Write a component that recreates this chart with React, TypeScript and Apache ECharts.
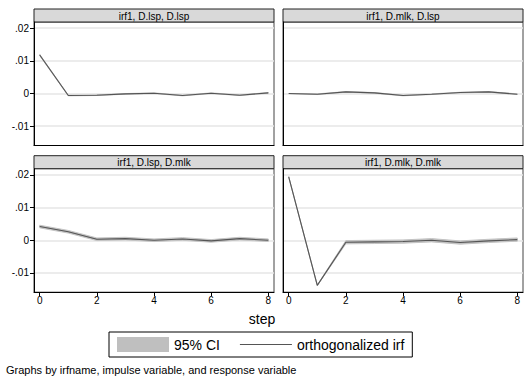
import React, { useEffect, useRef } from "react";
import * as echarts from "echarts";

const steps = [0, 1, 2, 3, 4, 5, 6, 7, 8];
const xTicks = [0, 2, 4, 6, 8];
const yTicks = [-0.01, 0, 0.01, 0.02];
const panelTitles = [
  "irf1, D.lsp, D.lsp",
  "irf1, D.mlk, D.lsp",
  "irf1, D.lsp, D.mlk",
  "irf1, D.mlk, D.mlk",
];

const irfLspLsp = [0.0118, -0.0006, -0.0005, -0.0001, 0.0001, -0.0006, 0.0001, -0.0005, 0.0002];
const loLspLsp = [0.0116, -0.0007, -0.0006, -0.0002, 0.0, -0.0007, 0.0, -0.0006, 0.0001];
const hiLspLsp = [0.012, -0.0005, -0.0004, 0.0, 0.0002, -0.0005, 0.0002, -0.0004, 0.0003];

const irfMlkLsp = [0.0, -0.0002, 0.0005, 0.0002, -0.0006, -0.0002, 0.0003, 0.0005, -0.0002];
const loMlkLsp = [0.0, -0.0003, 0.0004, 0.0001, -0.0007, -0.0003, 0.0002, 0.0004, -0.0003];
const hiMlkLsp = [0.0, -0.0001, 0.0006, 0.0003, -0.0005, -0.0001, 0.0004, 0.0006, -0.0001];

const irfLspMlk = [0.0042, 0.0026, 0.0003, 0.0005, 0.0, 0.0004, -0.0002, 0.0005, 0.0];
const loLspMlk = [0.0038, 0.0022, -0.0001, 0.0001, -0.0004, 0.0, -0.0006, 0.0001, -0.0004];
const hiLspMlk = [0.0046, 0.003, 0.0007, 0.0009, 0.0004, 0.0008, 0.0002, 0.0009, 0.0004];

const irfMlkMlk = [0.0194, -0.0138, -0.0006, -0.0005, -0.0004, 0.0, -0.0007, -0.0002, 0.0002];
const loMlkMlk = [0.0193, -0.0139, -0.0011, -0.001, -0.0009, -0.0005, -0.0012, -0.0007, -0.0003];
const hiMlkMlk = [0.0195, -0.0137, -0.0001, 0.0, 0.0001, 0.0005, -0.0002, 0.0003, 0.0007];

const FONT = '"Liberation Sans", Arial, Helvetica, sans-serif';

const panelData = [
  { irf: irfLspLsp, lo: loLspLsp, hi: hiLspLsp },
  { irf: irfMlkLsp, lo: loMlkLsp, hi: hiMlkLsp },
  { irf: irfLspMlk, lo: loLspMlk, hi: hiLspMlk },
  { irf: irfMlkMlk, lo: loMlkMlk, hi: hiMlkMlk },
];

const colLeft = [34, 283];
const rowHeaderTop = [9, 155.7];
const PANEL_W = 240;
const HEADER_H = 13;
const PLOT_H = 123.5;

function fmtY(v: number) {
  if (Math.abs(v) < 1e-12) return "0";
  return (v < 0 ? "-" : "") + Math.abs(v).toFixed(2).replace(/^0/, "");
}

export default function App() {
  const ref = useRef<HTMLDivElement>(null);
  useEffect(() => {
    if (!ref.current) return;
    const chart = echarts.init(ref.current, null, { renderer: "svg" });
    const grids: any[] = [];
    const xAxes: any[] = [];
    const yAxes: any[] = [];
    const series: any[] = [];
    const graphics: any[] = [];

    panelData.forEach((p, i) => {
      const col = i % 2;
      const row = Math.floor(i / 2);
      const left = colLeft[col];
      const headerTop = rowHeaderTop[row];
      const top = headerTop + HEADER_H;
      grids.push({
        left,
        top,
        width: PANEL_W,
        height: PLOT_H,
        show: true,
        borderColor: "#444",
        borderWidth: 1,
        backgroundColor: "#fff",
        containLabel: false,
        outerBoundsMode: "none",
      });
      const bottomRow = row === 1;
      xAxes.push({
        type: "value",
        gridIndex: i,
        min: -0.2,
        max: 8.2,
        axisLine: { show: true, onZero: false, lineStyle: { color: "#000", width: 1 } },
        axisTick: {
          show: bottomRow,
          customValues: xTicks,
          length: 4,
          lineStyle: { color: "#000" },
        },
        axisLabel: {
          show: bottomRow,
          customValues: xTicks,
          formatter: (v: number) => String(v),
          fontSize: 10,
          fontFamily: FONT,
          color: "#000",
          margin: 3,
        },
        splitLine: { show: false },
      });
      const leftCol = col === 0;
      yAxes.push({
        type: "value",
        gridIndex: i,
        min: -0.0159,
        max: 0.0219,
        axisLine: { show: true, onZero: false, lineStyle: { color: "#000", width: 1 } },
        axisTick: {
          show: leftCol,
          customValues: yTicks,
          length: 4,
          lineStyle: { color: "#000" },
        },
        axisLabel: {
          show: leftCol,
          customValues: yTicks,
          formatter: fmtY,
          fontSize: 10,
          fontFamily: FONT,
          color: "#000",
          margin: 5,
        },
        splitLine: { show: true, lineStyle: { color: "#e6e6e6", width: 1.5 } },
      });

      const lo = p.lo;
      const hi = p.hi;
      series.push({
        type: "custom",
        name: "95% CI",
        xAxisIndex: i,
        yAxisIndex: i,
        itemStyle: { color: "#bfbfbf" },
        encode: { x: 0, y: [1, 2] },
        data: steps.map((s, k) => [s, lo[k], hi[k]]),
        renderItem: (params: any, api: any) => {
          if (params.dataIndex !== 0) return { type: "group", children: [] };
          const pts: number[][] = [];
          for (let k = 0; k < steps.length; k++) pts.push(api.coord([steps[k], hi[k]]));
          for (let k = steps.length - 1; k >= 0; k--) pts.push(api.coord([steps[k], lo[k]]));
          return {
            type: "polygon",
            shape: { points: pts },
            style: { fill: "#bfbfbf", stroke: "#c4c4c4", lineWidth: 1 },
          };
        },
        z: 2,
      });
      series.push({
        type: "line",
        name: "orthogonalized irf",
        xAxisIndex: i,
        yAxisIndex: i,
        data: steps.map((s, k) => [s, p.irf[k]]),
        symbol: "none",
        color: "#555",
        itemStyle: { color: "#555" },
        lineStyle: { color: "#555", width: 1.1 },
        z: 3,
      });

      graphics.push({
        type: "rect",
        shape: { x: left, y: headerTop, width: PANEL_W, height: HEADER_H },
        style: { fill: "#d9d9d9", stroke: "#222", lineWidth: 1 },
      });
      graphics.push({
        type: "text",
        x: left + PANEL_W / 2,
        y: headerTop + HEADER_H / 2 + 0.5,
        style: {
          text: panelTitles[i],
          fontSize: 10,
          fontFamily: FONT,
          fill: "#000",
          textAlign: "center",
          textVerticalAlign: "middle",
          verticalAlign: "middle",
        },
      });
    });

    graphics.push({
      type: "text",
      x: 262,
      y: 319,
      style: {
        text: "step",
        fontSize: 14,
        fontFamily: FONT,
        fill: "#000",
        textAlign: "center",
        textVerticalAlign: "middle",
        verticalAlign: "middle",
      },
    });
    graphics.push({
      type: "text",
      x: 6,
      y: 370,
      style: {
        text: "Graphs by irfname, impulse variable, and response variable",
        fontSize: 11,
        fontFamily: FONT,
        fill: "#000",
        textAlign: "left",
        textVerticalAlign: "middle",
        verticalAlign: "middle",
      },
    });

    chart.setOption({
      animation: false,
      backgroundColor: "#fff",
      grid: grids,
      xAxis: xAxes,
      yAxis: yAxes,
      series,
      graphic: graphics,
      legend: {
        data: [
          { name: "95% CI", icon: "rect" },
          {
            name: "orthogonalized irf",
            icon: "path://M0,0L52,0L52,1.2L0,1.2Z",
            itemStyle: { color: "#555" },
          },
        ],
        left: 109,
        top: 332,
        orient: "horizontal",
        padding: [5, 8],
        itemWidth: 52,
        itemHeight: 15,
        itemGap: 20,
        borderColor: "#000",
        borderWidth: 1,
        backgroundColor: "#fff",
        selectedMode: false,
        textStyle: { fontSize: 14, fontFamily: FONT, color: "#000" },
      },
    });
    return () => chart.dispose();
  }, []);
  return (
    <div
      ref={ref}
      style={{ position: "fixed", left: 0, top: 0, width: 530, height: 378, background: "#fff" }}
    />
  );
}
